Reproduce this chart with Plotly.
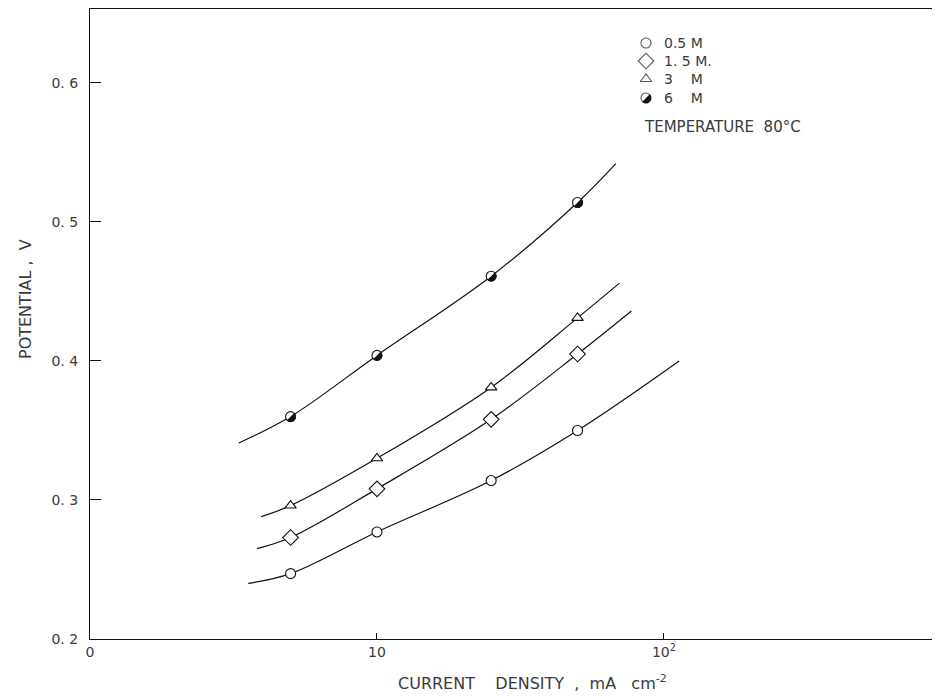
import plotly.graph_objects as go

# ---------------- data ----------------
current_density = [5, 10, 25, 50]                 # mA cm^-2
pot_05M = [0.247, 0.277, 0.314, 0.350]            # V
pot_15M = [0.273, 0.308, 0.358, 0.405]
pot_3M = [0.296, 0.330, 0.381, 0.431]
pot_6M = [0.360, 0.404, 0.461, 0.514]

# ends of the smooth hand-drawn curves
curve_start_x = [3.56, 3.82, 3.95, 3.30]
curve_start_v = [0.240, 0.265, 0.288, 0.341]
curve_end_x = [113, 77, 70, 68]
curve_end_v = [0.400, 0.436, 0.456, 0.542]

series_names = ["0.5 M", "1. 5 M.", "3    M", "6    M"]
series_symbols = ["circle", "diamond", "triangle-up", "circle"]
series_sizes = [10, 12, 10, 10]
series_values = [pot_05M, pot_15M, pot_3M, pot_6M]

x_tickvals = [1, 10, 100]
x_ticktext = ["0", "10", "10<sup>2</sup>"]
y_tickvals = [0.2, 0.3, 0.4, 0.5, 0.6]
y_ticktext = ["0. 2", "0. 3", "0. 4", "0. 5", "0. 6"]

FONT = "DejaVu Sans"
TXT = "#3a3a3a"
INK = "#111111"

# the page body has an 8 px margin: work in page pixels, convert to figure pixels
OFF = 8
PAGE_W, PAGE_H = 940, 696
W, H = PAGE_W - OFF, PAGE_H - OFF
# plot-area edges in page pixels
L, R, T, B = 90, 940, 9, 639

fig = go.Figure()


def half_disc_path(r):
    """bottom-right half of a disc, in pixel units (y up)."""
    k = 0.5523 * r * 0.7071
    a = r * 0.7071
    return (f"M {a},{a} "
            f"C {a + k},{a - k} {a + k},{-a + k} {a},{-a} "
            f"C {a - k},{-a - k} {-a + k},{-a - k} {-a},{-a} Z")


shapes = []

for i, vals in enumerate(series_values):
    cx = [curve_start_x[i]] + current_density + [curve_end_x[i]]
    cy = [curve_start_v[i]] + vals + [curve_end_v[i]]
    fig.add_trace(go.Scatter(x=cx, y=cy, mode="lines",
                             line=dict(color=INK, width=1.2, shape="spline", smoothing=1.0),
                             showlegend=False, hoverinfo="skip"))
for i, vals in enumerate(series_values):
    fig.add_trace(go.Scatter(x=current_density, y=vals, mode="markers", name=series_names[i],
                             marker=dict(symbol=series_symbols[i], size=series_sizes[i],
                                         color="white", line=dict(color=INK, width=1.1)),
                             showlegend=False))

# half-filled markers for 6 M
for xv, yv in zip(current_density, pot_6M):
    shapes.append(dict(type="path", xref="x", yref="y", xsizemode="pixel", ysizemode="pixel",
                       xanchor=xv, yanchor=yv, path=half_disc_path(5.2),
                       fillcolor=INK, line=dict(width=0), layer="above"))

# ---------------- hand-made legend on an overlay pixel axis (page pixels) ----------------
leg_x = 646
leg_y = [43, 61, 79, 98]
fig.add_trace(go.Scatter(x=[leg_x] * 4, y=leg_y, mode="markers", xaxis="x2", yaxis="y2",
                         marker=dict(symbol=series_symbols, size=series_sizes, color="white",
                                     line=dict(color=INK, width=1.1)),
                         showlegend=False, hoverinfo="skip"))
shapes.append(dict(type="path", xref="x2", yref="y2", xsizemode="pixel", ysizemode="pixel",
                   xanchor=leg_x, yanchor=leg_y[3], path=half_disc_path(5.2),
                   fillcolor=INK, line=dict(width=0), layer="above"))


def px(x):
    return (x - L) / (R - L)


def py(y):
    return (B - y) / (B - T)


annotations = []
for name, yy in zip(series_names, leg_y):
    annotations.append(dict(x=leg_x + 16, y=yy, xref="x2", yref="y2", text=name, showarrow=False,
                            xanchor="left", yanchor="middle",
                            font=dict(family=FONT, size=14, color=TXT)))
annotations.append(dict(x=leg_x - 4, y=127, xref="x2", yref="y2", text="TEMPERATURE  80°C",
                        showarrow=False, xanchor="left", yanchor="middle",
                        font=dict(family=FONT, size=15, color=TXT)))
# axis titles (paper coordinates so they may sit outside the plot area)
annotations.append(dict(x=px(25), y=py(299), xref="paper", yref="paper", text="POTENTIAL ,  V",
                        textangle=-90, showarrow=False, xanchor="center", yanchor="middle",
                        font=dict(family=FONT, size=16, color=TXT)))
annotations.append(dict(x=px(532), y=py(682), xref="paper", yref="paper",
                        text="CURRENT    DENSITY  ,  mA   cm<sup>-2</sup>",
                        showarrow=False, xanchor="center", yanchor="middle",
                        font=dict(family=FONT, size=16, color=TXT)))

fig.update_layout(
    width=W, height=H,
    margin=dict(l=L - OFF, r=PAGE_W - R, t=T - OFF, b=PAGE_H - B),
    paper_bgcolor="white", plot_bgcolor="white",
    showlegend=False,
    shapes=shapes,
    annotations=annotations,
    xaxis=dict(type="log", range=[0, 2.962], showgrid=False, zeroline=False,
               showline=True, linecolor=INK, linewidth=1.2, mirror=True,
               ticks="inside", ticklen=6, tickcolor=INK, tickwidth=1.2,
               tickvals=x_tickvals, ticktext=x_ticktext,
               tickfont=dict(family=FONT, size=14, color=TXT)),
    yaxis=dict(range=[0.2, 0.6532], showgrid=False, zeroline=False,
               showline=True, linecolor=INK, linewidth=1.2, mirror=False,
               ticks="inside", ticklen=11, tickcolor=INK, tickwidth=1.2,
               tickvals=y_tickvals, ticktext=y_ticktext, ticklabelstandoff=8,
               tickfont=dict(family=FONT, size=14, color=TXT)),
    xaxis2=dict(overlaying="x", range=[L, R], visible=False, fixedrange=True),
    yaxis2=dict(overlaying="y", range=[B, T], visible=False, fixedrange=True),
)

fig.write_html("out.html")
